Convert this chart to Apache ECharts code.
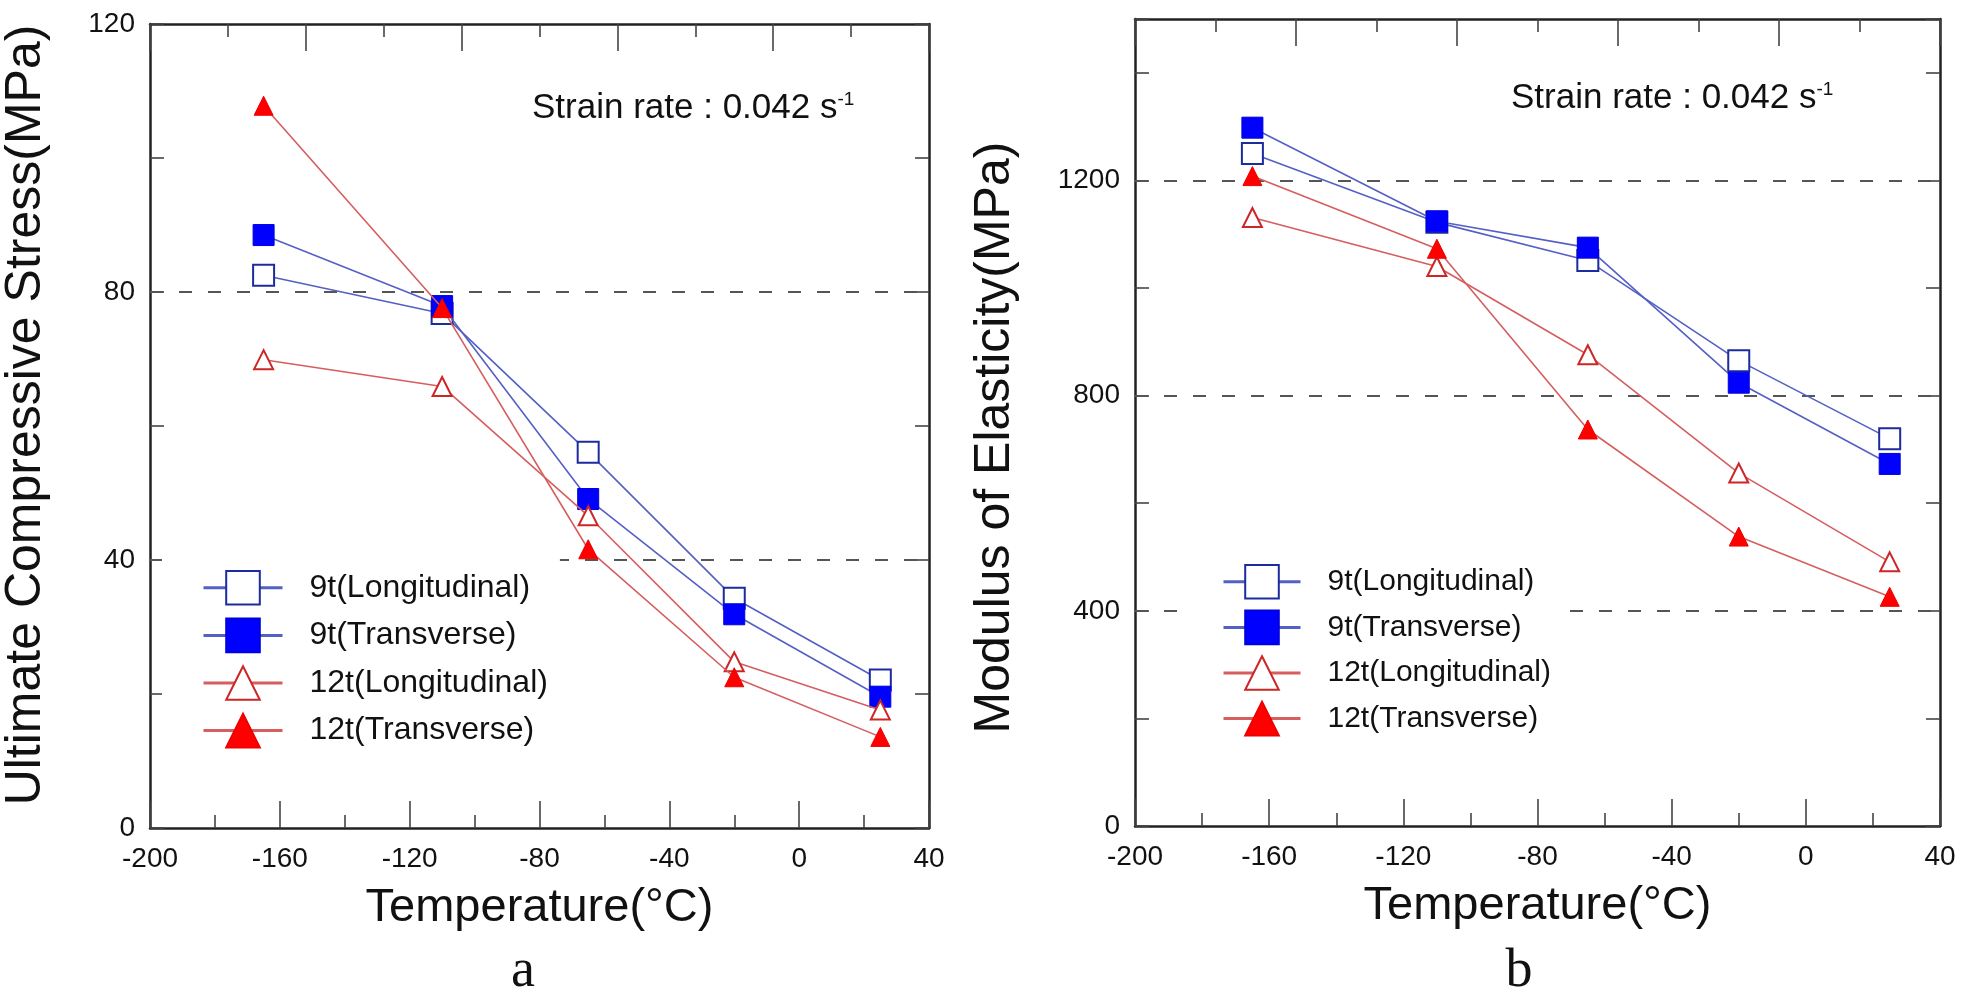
<!DOCTYPE html>
<html>
<head>
<meta charset="utf-8">
<script src="https://cdn.jsdelivr.net/npm/echarts@6/dist/echarts.min.js"></script>
<style>
html,body{margin:0;padding:0;background:#fff;}
#chart{width:1961px;height:995px;}
</style>
</head>
<body>
<div id="chart"></div>
<script>
// ---- data ----
const temps = [-165, -110, -65, -20, 25];
const seriesNames = ['9t(Longitudinal)', '9t(Transverse)', '12t(Longitudinal)', '12t(Transverse)'];

const stress9L  = [82.5, 76.8, 56.1, 34.3, 22.1];
const stress9T  = [88.5, 77.9, 49.1, 31.9, 19.6];
const stress12L = [69.9, 65.9, 46.6, 24.8, 17.6];
const stress12T = [107.8, 77.6, 41.6, 22.5, 13.6];

const modulus9L  = [1250, 1122, 1051, 865, 720];
const modulus9T  = [1298, 1124, 1075, 824, 673];
const modulus12L = [1131, 1040, 876, 656, 491];
const modulus12T = [1208, 1073, 737, 538, 426];

const gridValuesA = [40, 80];
const gridValuesB = [400, 800, 1200];

const titleA = 'Ultimate Compressive Stress(MPa)';
const titleB = 'Modulus of Elasticity(MPa)';
const xTitle = 'Temperature(\u00B0C)';
const strainText = 'Strain rate : 0.042 s';
const strainSup = '-1';

// ---- styles ----
const FONT = 'Liberation Sans, Arial, sans-serif';
const blueLine = '#5560c4';
const redLine = '#d65e5e';
const styles = [
  { symbol: 'rect', size: 21, item: { color: '#ffffff', borderColor: '#1c2c9e', borderWidth: 2 }, line: blueLine },
  { symbol: 'rect', size: 21, item: { color: '#0000ff', borderColor: '#0000e0', borderWidth: 1 }, line: blueLine },
  { symbol: 'triangle', size: 19, item: { color: '#ffffff', borderColor: '#cc2626', borderWidth: 2 }, line: redLine },
  { symbol: 'triangle', size: 19, item: { color: '#ff0000', borderColor: '#ee0000', borderWidth: 1 }, line: redLine }
];

function pairs(ys) { return temps.map((t, i) => [t, ys[i]]); }

function makeSeries(idx, gridIdx, ys, gridVals) {
  const st = styles[idx];
  const s = {
    type: 'line',
    name: seriesNames[idx],
    xAxisIndex: gridIdx * 2,
    yAxisIndex: gridIdx * 2,
    data: pairs(ys),
    symbol: st.symbol,
    symbolSize: st.size,
    showAllSymbol: true,
    itemStyle: st.item,
    lineStyle: { color: st.line, width: 1.6 },
    emphasis: { disabled: true },
    z: 3 + idx
  };
  if (idx === 0) {
    s.markLine = {
      silent: true,
      symbol: 'none',
      label: { show: false },
      lineStyle: { type: [13, 16], color: '#555', width: 2 },
      data: gridVals.map(v => ({ yAxis: v })),
      z: 1
    };
  }
  return s;
}

const axisLineStyle = { show: true, onZero: false, lineStyle: { color: '#222', width: 2.5 } };
const tickLine = { color: '#444', width: 1.6 };

function xAxes(gridIdx) {
  return [
    {
      gridIndex: gridIdx, type: 'value', position: 'bottom',
      min: -200, max: 40, interval: 40,
      axisLine: axisLineStyle,
      axisTick: { show: true, inside: true, length: 27, lineStyle: tickLine },
      minorTick: { show: true, splitNumber: 2, length: 13, lineStyle: tickLine },
      splitLine: { show: false },
      axisLabel: { fontSize: 28, fontFamily: FONT, color: '#111', margin: 17 },
      name: xTitle, nameLocation: 'middle', nameGap: 57,
      nameTextStyle: { fontSize: 47, fontFamily: FONT, color: '#111' }
    },
    {
      gridIndex: gridIdx, type: 'value', position: 'top',
      min: -200, max: 40, interval: 48,
      axisLine: axisLineStyle,
      axisTick: { show: true, inside: true, length: 27, lineStyle: tickLine },
      minorTick: { show: true, splitNumber: 2, length: 13, lineStyle: tickLine },
      splitLine: { show: false },
      axisLabel: { show: false }
    }
  ];
}

function yAxes(gridIdx, max, step, labelStep, labelMax, title, nameGap, namePad) {
  return [
    {
      gridIndex: gridIdx, type: 'value', position: 'left',
      min: 0, max: max, interval: step,
      axisLine: axisLineStyle,
      axisTick: { show: true, inside: true, length: 14, lineStyle: tickLine },
      splitLine: { show: false },
      axisLabel: {
        fontSize: 28, fontFamily: FONT, color: '#111', margin: 15,
        formatter: v => (v % labelStep === 0 && v <= labelMax) ? String(v) : ''
      },
      name: title, nameLocation: 'middle', nameGap: nameGap,
      nameTextStyle: { fontSize: 50, fontFamily: FONT, color: '#111', padding: namePad }
    },
    {
      gridIndex: gridIdx, type: 'value', position: 'right',
      min: 0, max: max, interval: step,
      axisLine: axisLineStyle,
      axisTick: { show: true, inside: true, length: 14, lineStyle: tickLine },
      splitLine: { show: false },
      axisLabel: { show: false }
    }
  ];
}

function legendCfg(left, top, itemWidth, itemGap, padding, fontSize) {
  return {
    orient: 'vertical', left: left, top: top,
    itemWidth: itemWidth, itemHeight: 42, itemGap: itemGap,
    padding: padding, backgroundColor: '#ffffff',
    selectedMode: false,
    textStyle: { fontSize: fontSize, fontFamily: FONT, color: '#111', padding: [0, 0, 0, 22] },
    lineStyle: { width: 3 },
    data: seriesNames
  };
}

function strainGraphic(x, y) {
  return {
    type: 'text', x: x, y: y, z: 10,
    style: {
      text: '{a|' + strainText + '}{b|' + strainSup + '}',
      align: 'left', verticalAlign: 'middle',
      rich: {
        a: { fontSize: 35, fontFamily: FONT, fill: '#111' },
        b: { fontSize: 19, fontFamily: FONT, fill: '#111', verticalAlign: 'top' }
      }
    }
  };
}

const option = {
  animation: false,
  backgroundColor: '#ffffff',
  grid: [
    { left: 124, right: 1961 - 929, top: 24, bottom: 995 - 828 },
    { left: 1135, right: 1961 - 1940, top: 19, bottom: 995 - 826 }
  ],
  xAxis: [...xAxes(0), ...xAxes(1)],
  yAxis: [
    ...yAxes(0, 120, 20, 40, 120, titleA, 99, [0, 0, 0, 22]),
    ...yAxes(1, 1500, 200, 400, 1200, titleB, 115, [0, 30, 0, 0])
  ],
  legend: [
    legendCfg(162, 550, 79, 12, [20, 12, 20, 40], 32),
    legendCfg(1192, 549, 77, 10, [15, 14, 15, 30], 30)
  ],
  series: [
    makeSeries(0, 0, stress9L, gridValuesA),
    makeSeries(1, 0, stress9T, gridValuesA),
    makeSeries(2, 0, stress12L, gridValuesA),
    makeSeries(3, 0, stress12T, gridValuesA),
    makeSeries(0, 1, modulus9L, gridValuesB),
    makeSeries(1, 1, modulus9T, gridValuesB),
    makeSeries(2, 1, modulus12L, gridValuesB),
    makeSeries(3, 1, modulus12T, gridValuesB)
  ],
  graphic: [
    strainGraphic(532, 108),
    strainGraphic(1511, 98),
    { type: 'text', x: 523, y: 972, style: { text: 'a', align: 'center', verticalAlign: 'middle', fontSize: 54, fontFamily: 'Liberation Serif, Times New Roman, serif', fill: '#111' } },
    { type: 'text', x: 1519, y: 972, style: { text: 'b', align: 'center', verticalAlign: 'middle', fontSize: 54, fontFamily: 'Liberation Serif, Times New Roman, serif', fill: '#111' } }
  ]
};

const chart = echarts.init(document.getElementById('chart'), null, { renderer: 'canvas' });
chart.setOption(option);
</script>
</body>
</html>
